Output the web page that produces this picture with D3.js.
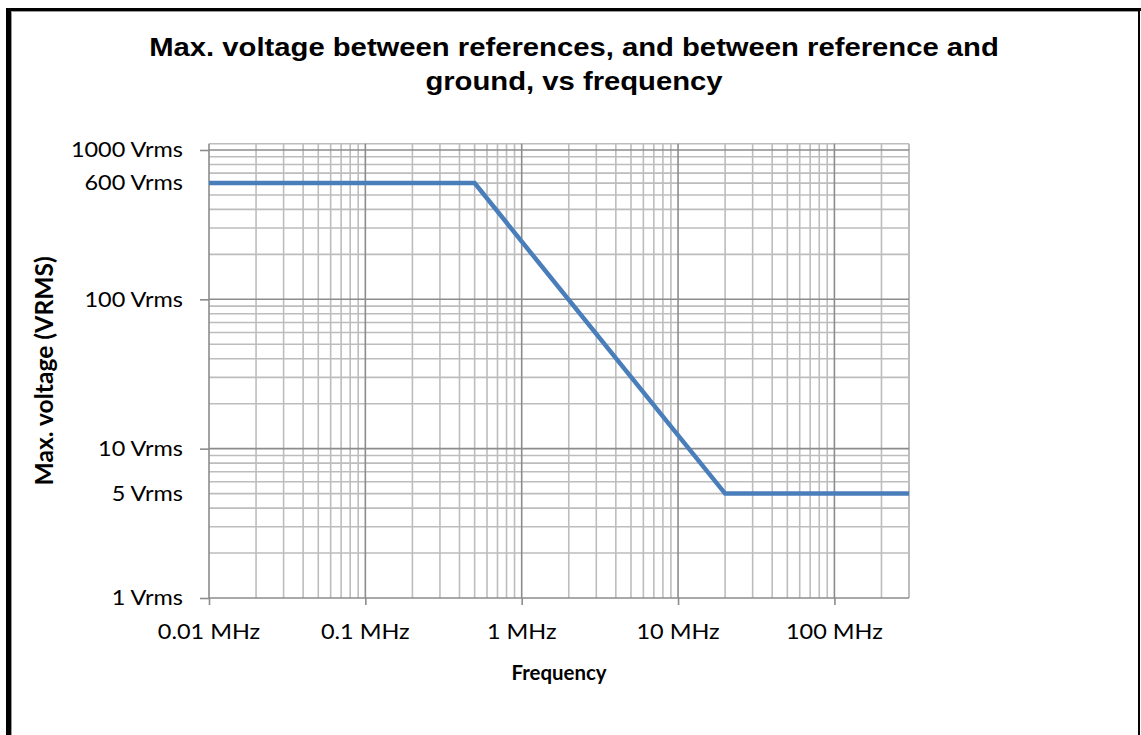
<!DOCTYPE html>
<html>
<head>
<meta charset="utf-8">
<script src="https://cdn.jsdelivr.net/npm/d3@7"></script>
<style>
  html, body { margin: 0; padding: 0; background: #fff; }
  svg { display: block; }
</style>
</head>
<body>
<svg id="chart" width="1141" height="735"></svg>
<script>
// Derating curve: frequency (MHz) vs maximum voltage (Vrms)
const freqMHz = [0.01, 0.5, 20, 300];
const maxVrms = [600, 600, 5, 5];

// Axis ticks and labels
const xTickValues = [0.01, 0.1, 1, 10, 100];
const xTickLabels = ["0.01 MHz", "0.1 MHz", "1 MHz", "10 MHz", "100 MHz"];
const yTickValues = [1, 10, 100, 1000];
const yTickLabels = ["1 Vrms", "10 Vrms", "100 Vrms", "1000 Vrms"];
// Extra labels marking the curve's plateau levels
const yLevelValues = [600, 5];
const yLevelLabels = ["600 Vrms", "5 Vrms"];

const xDomain = [0.01, 300];
const yDomain = [1, 1100];

const titleLines = ["Max. voltage between references, and between reference and", "ground, vs frequency"];
const xTitle = "Frequency";
const yTitle = "Max. voltage (VRMS)";

const svg = d3.select("#chart");
const plot = { left: 209, right: 909, top: 143.8, bottom: 598 };

const x = d3.scaleLog().domain(xDomain).range([plot.left, plot.right]);
const y = d3.scaleLog().domain(yDomain).range([plot.bottom, plot.top]);

const labelFont = "Lato, 'Open Sans', sans-serif";
const stretch = 1.15;   // horizontal widening of the label lettering

// Places a horizontally widened text label anchored at (px, py)
function label(parent, px, py, str, opts) {
  const g = parent.append("g").attr("transform", `translate(${px},${py}) scale(${opts.sx || stretch},1)`);
  return g.append("text")
    .attr("x", 0).attr("y", 0)
    .attr("dy", opts.dy || 0)
    .attr("text-anchor", opts.anchor || "middle")
    .attr("font-family", opts.family || labelFont)
    .attr("font-weight", opts.weight || "normal")
    .attr("font-size", opts.size || 20.4)
    .attr("fill", "#000")
    .text(str);
}

// Outer frame
svg.append("rect").attr("x", 6).attr("y", 8).attr("width", 5).attr("height", 735).attr("fill", "#000");
svg.append("rect").attr("x", 6).attr("y", 8).attr("width", 1135).attr("height", 3).attr("fill", "#000");
svg.append("rect").attr("x", 1138).attr("y", 8).attr("width", 2).attr("height", 735).attr("fill", "#000");
svg.append("line").attr("x1", 11.5).attr("x2", 11.5).attr("y1", 11).attr("y2", 735)
  .attr("stroke", "#9a9a9a").attr("stroke-width", 1);
svg.append("line").attr("x1", 11).attr("x2", 1138).attr("y1", 11.5).attr("y2", 11.5)
  .attr("stroke", "#9a9a9a").attr("stroke-width", 1);

// Title
const titleG = svg.append("g");
titleLines.forEach((t, i) => {
  label(titleG, 574, 56 + i * 34, t, {
    family: "'Liberation Sans', Arial, sans-serif", weight: "bold", size: 25, sx: 1.17
  });
});

// Gridlines
const minorX = [];
for (let e = -2; e <= 2; e++) {
  for (let m = 2; m <= 9; m++) {
    const v = m * Math.pow(10, e);
    if (v < xDomain[1]) minorX.push(v);
  }
}
const minorY = [];
for (let e = 0; e <= 2; e++) {
  for (let m = 2; m <= 9; m++) minorY.push(m * Math.pow(10, e));
}

const grid = svg.append("g");
grid.selectAll(".vminor").data(minorX).join("line")
  .attr("x1", d => x(d)).attr("x2", d => x(d))
  .attr("y1", plot.top).attr("y2", plot.bottom)
  .attr("stroke", "#bdbdbd").attr("stroke-width", 1.6);
grid.selectAll(".hminor").data(minorY).join("line")
  .attr("x1", plot.left).attr("x2", plot.right)
  .attr("y1", d => y(d)).attr("y2", d => y(d))
  .attr("stroke", "#bdbdbd").attr("stroke-width", 1.6);

// Plot area border (top and right)
grid.append("line").attr("x1", plot.left).attr("x2", plot.right)
  .attr("y1", plot.top).attr("y2", plot.top).attr("stroke", "#bdbdbd").attr("stroke-width", 1.6);
grid.append("line").attr("x1", plot.right).attr("x2", plot.right)
  .attr("y1", plot.top).attr("y2", plot.bottom).attr("stroke", "#bdbdbd").attr("stroke-width", 2);

grid.selectAll(".vmajor").data(xTickValues.slice(1)).join("line")
  .attr("x1", d => x(d)).attr("x2", d => x(d))
  .attr("y1", plot.top).attr("y2", plot.bottom)
  .attr("stroke", "#8c8c8c").attr("stroke-width", 1.6);
grid.selectAll(".hmajor").data(yTickValues.slice(1)).join("line")
  .attr("x1", plot.left).attr("x2", plot.right)
  .attr("y1", d => y(d)).attr("y2", d => y(d))
  .attr("stroke", "#8c8c8c").attr("stroke-width", 1.6);

// Axes (lines and tick marks); labels are placed separately
const xAxis = d3.axisBottom(x).tickValues(xTickValues).tickFormat("").tickSize(7);
const gx = svg.append("g").attr("transform", `translate(0,${plot.bottom})`).call(xAxis);
gx.select(".domain").attr("stroke", "#8c8c8c").attr("stroke-width", 1.6)
  .attr("d", `M${plot.left},0H${plot.right}`);
gx.selectAll(".tick line").attr("stroke", "#8c8c8c").attr("stroke-width", 1.6);

const yAxis = d3.axisLeft(y).tickValues(yTickValues).tickFormat("").tickSize(9);
const gy = svg.append("g").attr("transform", `translate(${plot.left},0)`).call(yAxis);
gy.select(".domain").attr("stroke", "#8c8c8c").attr("stroke-width", 1.6)
  .attr("d", `M0,${plot.bottom}V${plot.top}`);
gy.selectAll(".tick line").attr("stroke", "#8c8c8c").attr("stroke-width", 1.6);

// Tick labels
const labelsG = svg.append("g");
xTickValues.forEach((v, i) => label(labelsG, x(v), 639, xTickLabels[i], {}));
yTickValues.forEach((v, i) => label(labelsG, 183, y(v), yTickLabels[i], { anchor: "end", dy: "0.36em" }));
yLevelValues.forEach((v, i) => label(labelsG, 183, y(v), yLevelLabels[i], { anchor: "end", dy: "0.36em" }));

// Axis titles
label(svg, (plot.left + plot.right) / 2, 680, xTitle, { weight: "bold", size: 20.4, sx: 1 });
svg.append("text")
  .attr("transform", `translate(53,${(plot.top + plot.bottom) / 2}) rotate(-90)`)
  .attr("text-anchor", "middle")
  .attr("font-family", labelFont).attr("font-weight", "bold").attr("font-size", 24.6)
  .text(yTitle);

// Derating curve
const line = d3.line().x(d => x(d[0])).y(d => y(d[1]));
svg.append("path")
  .datum(freqMHz.map((f, i) => [f, maxVrms[i]]))
  .attr("d", line)
  .attr("fill", "none")
  .attr("stroke", "#4a7ebb")
  .attr("stroke-width", 4.5)
  .attr("stroke-linejoin", "miter");
</script>
</body>
</html>
